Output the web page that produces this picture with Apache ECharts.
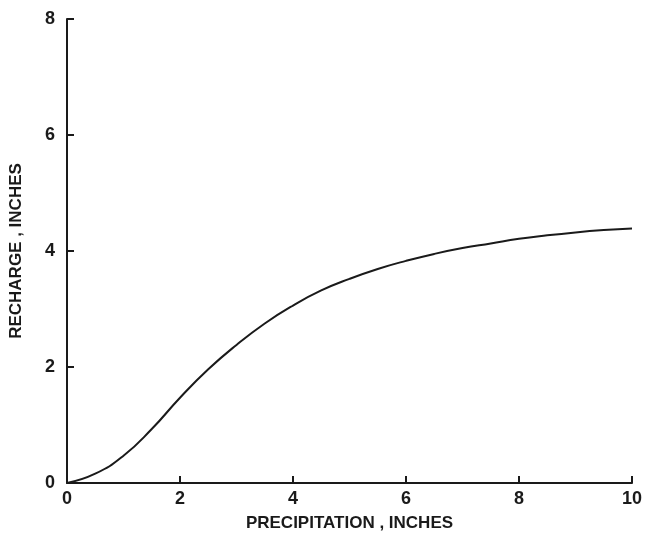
<!DOCTYPE html>
<html>
<head>
<meta charset="utf-8">
<script src="https://cdn.jsdelivr.net/npm/echarts@6/dist/echarts.min.js"></script>
<style>
  html, body { margin: 0; padding: 0; background: #fff; }
  #chart { width: 645px; height: 537px; }
</style>
</head>
<body>
<div id="chart"></div>
<script>
// Recharge as a function of precipitation (inches)
const precipitation = [0, 0.5, 1.0, 1.5, 2.0, 2.5, 3.0, 3.5, 4.0, 4.5, 5.0, 5.5, 6.0, 6.5, 7.0, 7.5, 8.0, 8.5, 9.0, 9.5, 10.0];
const recharge      = [0, 0.16, 0.47, 0.93, 1.47, 1.96, 2.38, 2.75, 3.06, 3.32, 3.52, 3.69, 3.83, 3.95, 4.05, 4.13, 4.21, 4.27, 4.32, 4.36, 4.39];
const xTicks = [0, 2, 4, 6, 8, 10];
const yTicks = [0, 2, 4, 6, 8];

const ink = '#1a1a1a';
const font = '"Liberation Sans", Arial, sans-serif';

const chart = echarts.init(document.getElementById('chart'), null, { renderer: 'canvas' });
chart.setOption({
  animation: false,
  backgroundColor: '#ffffff',
  grid: { left: 61, right: 10, top: 19, bottom: 50, containLabel: false },
  xAxis: {
    type: 'value',
    min: xTicks[0],
    max: xTicks[xTicks.length - 1],
    interval: 2,
    name: 'PRECIPITATION , INCHES',
    nameLocation: 'middle',
    nameGap: 32,
    nameTextStyle: { color: ink, fontFamily: font, fontSize: 17, fontWeight: 'bold' },
    axisLine: { lineStyle: { color: ink, width: 2 } },
    axisTick: { inside: true, length: 7, lineStyle: { color: ink, width: 2 } },
    axisLabel: { color: ink, fontFamily: font, fontSize: 18, fontWeight: 'bold', margin: 7 },
    splitLine: { show: false }
  },
  yAxis: {
    type: 'value',
    min: yTicks[0],
    max: yTicks[yTicks.length - 1],
    interval: 2,
    name: 'RECHARGE , INCHES',
    nameLocation: 'middle',
    nameGap: 42,
    nameRotate: 90,
    nameTextStyle: { color: ink, fontFamily: font, fontSize: 17, fontWeight: 'bold' },
    axisLine: { lineStyle: { color: ink, width: 2 } },
    axisTick: { inside: true, length: 7, lineStyle: { color: ink, width: 2 } },
    axisLabel: { color: ink, fontFamily: font, fontSize: 18, fontWeight: 'bold', margin: 12 },
    splitLine: { show: false }
  },
  series: [{
    type: 'line',
    data: precipitation.map((p, i) => [p, recharge[i]]),
    smooth: 0.5,
    showSymbol: false,
    lineStyle: { color: ink, width: 2 }
  }]
});
</script>
</body>
</html>
